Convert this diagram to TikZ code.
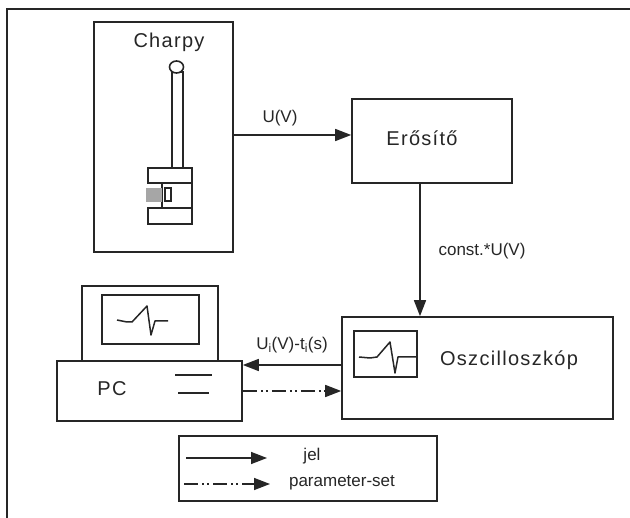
\documentclass[tikz,border=0pt]{standalone}
\usepackage{fontspec}
\setmainfont{Liberation Sans}
\newfontfamily\spacedfont[LetterSpace=6.5]{Liberation Sans}
\usetikzlibrary{arrows.meta,backgrounds}
\definecolor{ink}{gray}{0.15}
\tikzset{
  box/.style={draw=ink, line width=1.6pt, rectangle, inner sep=0pt},
  txtbig/.style={text=ink, inner sep=0pt, font=\spacedfont\fontsize{20}{20}\selectfont},
  txtsmall/.style={text=ink, inner sep=0pt, font=\fontsize{17}{17}\selectfont},
  sig/.style={draw=ink, line width=1.5pt, -{Triangle[length=16pt,width=12pt]}},
  par/.style={sig, dash pattern=on 14pt off 4pt on 2pt off 3pt on 2pt off 4pt},
  wave/.style={draw=ink, line width=1.5pt, line join=round}
}
\begin{document}
\begin{tikzpicture}[x=1pt, y=-1pt]
    \useasboundingbox (0,0) rectangle (630,518);

    % sheet edge
    \draw [ink, line width=1.6pt] (7,518) -- (7,9) -- (630,9);

    % blocks
    \node [box, minimum width=139pt, minimum height=230pt] (charpy) at (163.5,137) {};
    \node [box, minimum width=160pt, minimum height=84pt] (erosito) at (432,141) {};
    \node [box, minimum width=271pt, minimum height=102pt] (oszcillo) at (477.5,368) {};
    \node [box, minimum width=185pt, minimum height=60pt] (pc) at (149.5,391) {};
    \node [box, minimum width=258pt, minimum height=65pt] (legend) at (308,468.5) {};

    % labels
    \node [txtbig] (charpytxt) at (169,42) {Charpy};
    \node [txtbig] (erositotxt) at (422,138) {Erősítő};
    \node [txtbig] (oszcillotxt) at (509,360) {Oszcilloszkóp};
    \node [txtbig] (pctxt) at (112,389) {PC};
    \node [txtsmall] (uvtxt) at (280,118) {U(V)};
    \node [txtsmall] (consttxt) at (482,251) {const.*U(V)};
    \node [txtsmall] (uitxt) at (292,345) {U$_{\mathrm{i}}$(V)-t$_{\mathrm{i}}$(s)};
    \node [txtsmall] (jeltxt) at (312,456) {jel};
    \node [txtsmall] (partxt) at (342,483) {parameter-set};

    % hammer
    \draw [box] (172,168) rectangle (183,72);
    \draw [box, fill=white] (176.5,67) ellipse (7pt and 6pt);

    % anvil
    \draw [box] (162,183) -| (192,168) -| (148,183) -- cycle;
    \draw [box] (162,183) -- (162,208);
    \draw [box] (192,183) |- (148,208) |- (192,224) -- cycle;
    \fill [gray!70] (146,188) rectangle (162,202);
    \draw [draw=ink, line width=1.3pt] (165,188) rectangle (171,201);

    % monitor
    \draw [box] (82,361) |- (218,286) -- (218,361);
    \draw [box] (102,295) rectangle (199,344);
    \draw [wave] (117,320) -- (127,322) -- (132,322) -- (147,306) -- (151,335) -- (155,321) -- (168,321);

    % pc slots
    \coordinate (slotA) at (175,375);
    \coordinate (slotB) at (178,393);
    \draw [ink, line width=1.8pt] (slotA) -- +(37,0);
    \draw [ink, line width=1.3pt] (slotB) -- +(31,0);

    % scope screen
    \draw [box] (354,331) rectangle (417,377);
    \draw [wave] (359,357) -- (370,358) -- (377,357) -- (390,342) -- (395,373) -- (398,357) -- (416,357);

    % connectors
    \coordinate (uv) at (0,135);
    \coordinate (amp) at (420,0);
    \coordinate (ui) at (0,365);
    \coordinate (ps) at (0,391);
    \draw [sig] (charpy.east |- uv) -- (erosito.west |- uv);
    \draw [sig] (erosito.south -| amp) -- (oszcillo.north -| amp);
    \draw [sig] (oszcillo.west |- ui) -- (pc.east |- ui);
    \draw [par] (pc.east |- ps) -- (oszcillo.west |- ps);

    % legend
    \coordinate (jelA) at (186,458);
    \coordinate (jelB) at (267,458);
    \coordinate (parA) at (184,484);
    \coordinate (parB) at (270,484);
    \draw [sig] (jelA) -- (jelB);
    \draw [par] (parA) -- (parB);
\end{tikzpicture}
\end{document}
